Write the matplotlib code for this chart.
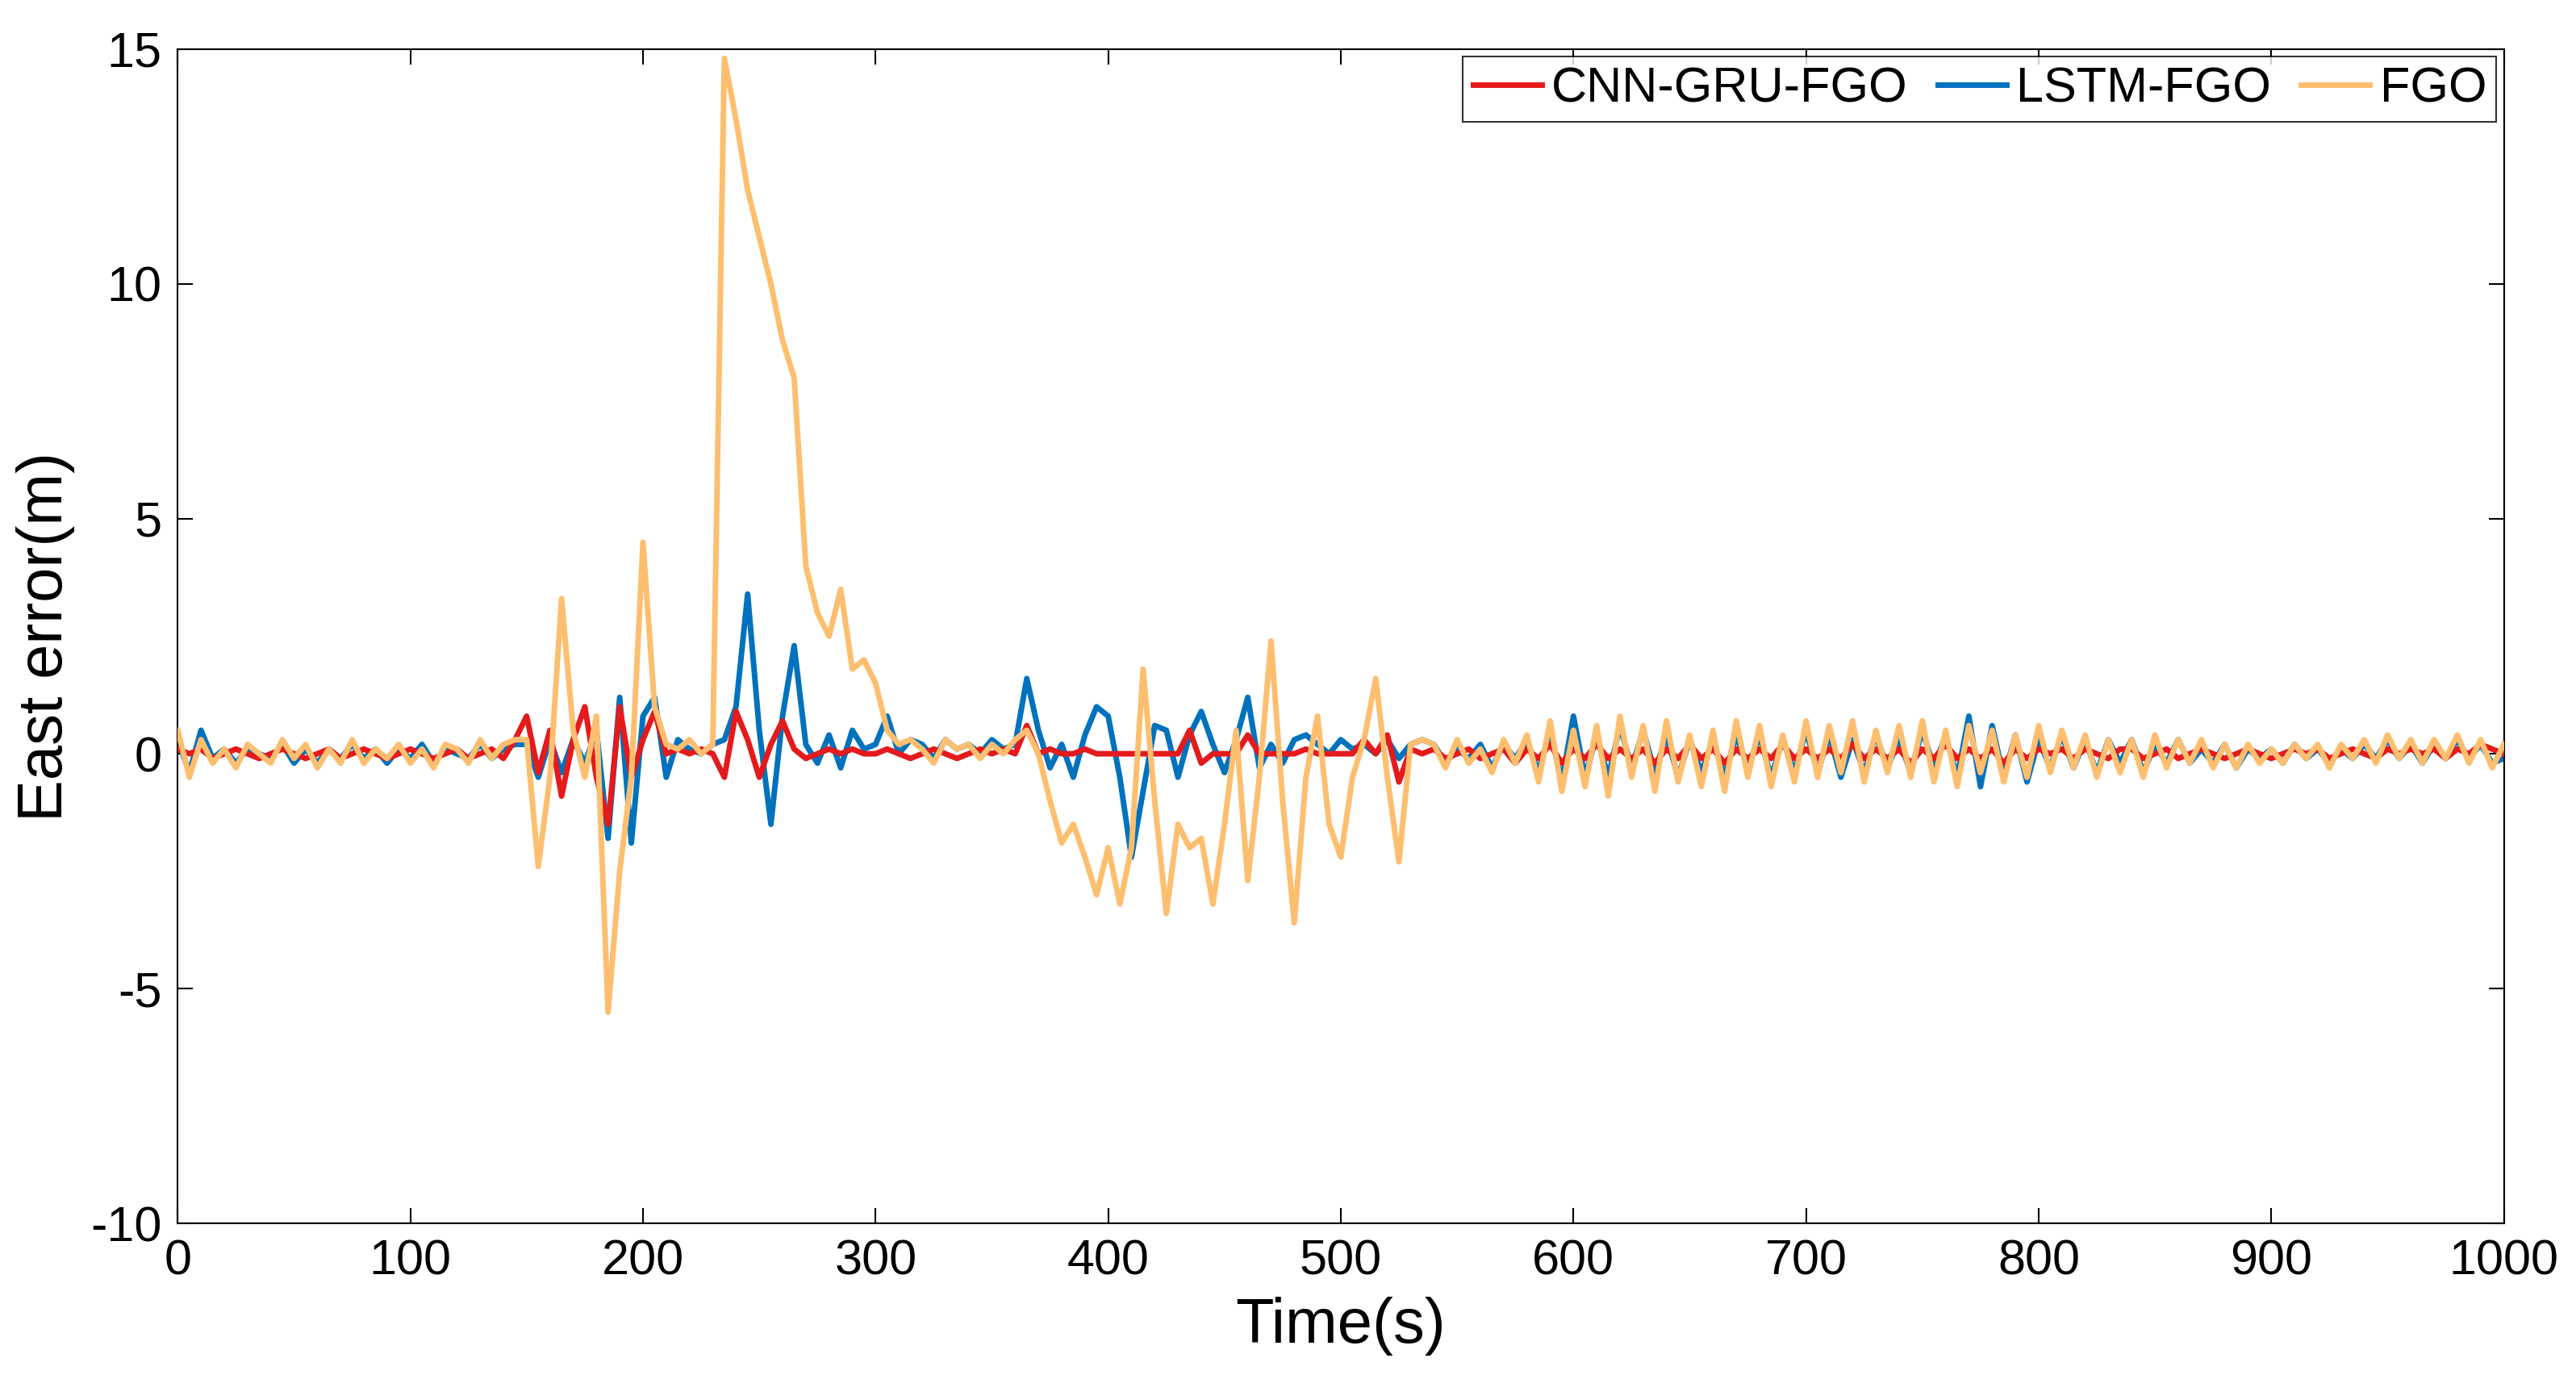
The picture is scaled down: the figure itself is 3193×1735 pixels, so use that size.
import matplotlib
matplotlib.use("Agg")
import matplotlib.pyplot as plt

t = list(range(0, 1001, 5))

fgo = [0.5,-0.5,0.3,-0.2,0.1,-0.3,0.2,0.0,-0.2,0.3,-0.1,0.2,-0.3,0.1,-0.2,0.3,-0.2,0.1,-0.1,0.2,
       -0.2,0.1,-0.3,0.2,0.1,-0.2,0.3,-0.1,0.2,0.3,
       0.3,-2.4,-0.5,3.3,0.5,-0.5,0.8,-5.5,-2.5,-0.5,4.5,1.0,0.2,0.1,0.3,0.0,0.2,14.8,13.5,12.0,
       11.0,10.0,8.8,8.0,4.0,3.0,2.5,3.5,1.8,2.0,1.5,0.5,0.2,0.3,0.1,-0.2,0.3,0.1,0.2,-0.1,
       0.2,0.0,0.3,0.5,0.0,-1.0,-1.9,-1.5,-2.2,-3.0,-2.0,-3.2,-2.0,1.8,-1.0,-3.4,-1.5,-2.0,-1.8,-3.2,
       -1.5,0.5,-2.7,-0.5,2.4,-1.0,-3.6,-0.5,0.8,-1.5,-2.2,-0.5,0.3,1.6,-0.5,-2.3,0.2,0.3,
       0.2,-0.3,0.3,-0.2,0.1,-0.4,0.3,-0.2,0.4,-0.6,0.7,-0.8,0.5,-0.7,0.6,-0.9,0.8,-0.5,0.6,-0.8,
       0.7,-0.6,0.4,-0.7,0.5,-0.8,0.7,-0.5,0.6,-0.7,0.4,-0.6,0.7,-0.5,0.6,-0.4,0.7,-0.6,0.5,-0.4,
       0.6,-0.5,0.7,-0.6,0.5,-0.7,0.6,-0.4,0.5,-0.6,0.4,-0.5,0.6,-0.4,0.5,-0.3,0.4,-0.5,0.3,-0.4,
       0.3,-0.5,0.4,-0.3,0.3,-0.2,0.3,-0.3,0.2,-0.3,0.2,-0.2,0.1,-0.2,0.2,-0.1,0.2,-0.3,0.2,-0.1,
       0.3,-0.2,0.4,-0.1,0.3,-0.2,0.3,-0.1,0.4,-0.2,0.3,-0.3,0.2]

lstm = [0.3,-0.4,0.5,-0.1,0.1,-0.2,0.1,0.0,-0.1,0.2,-0.2,0.1,-0.2,0.1,-0.1,0.2,-0.1,0.1,-0.2,0.1,
        -0.1,0.2,-0.2,0.1,0.0,-0.1,0.2,-0.1,0.1,0.2,
        0.2,-0.5,0.3,-0.4,0.3,-0.2,0.5,-1.8,1.2,-1.9,0.8,1.2,-0.5,0.3,0.1,0.0,0.2,0.3,1.0,3.4,
        0.5,-1.5,0.8,2.3,0.2,-0.2,0.4,-0.3,0.5,0.1,0.2,0.8,0.0,0.3,0.2,-0.1,0.3,0.1,0.2,0.0,
        0.3,0.1,0.2,1.6,0.5,-0.3,0.2,-0.5,0.4,1.0,0.8,-0.5,-2.2,-0.8,0.6,0.5,-0.5,0.4,0.9,0.2,
        -0.4,0.3,1.2,-0.3,0.2,-0.2,0.3,0.4,0.2,0.0,0.3,0.1,0.2,0.0,0.3,-0.1,0.2,0.3,
        0.2,-0.2,0.1,-0.1,0.2,-0.3,0.2,-0.1,0.3,-0.4,0.5,-0.6,0.8,-0.5,0.4,-0.5,0.6,-0.3,0.5,-0.4,
        0.4,-0.5,0.3,-0.4,0.3,-0.5,0.4,-0.3,0.4,-0.5,0.3,-0.4,0.5,-0.4,0.4,-0.5,0.3,-0.4,0.4,-0.3,
        0.3,-0.4,0.5,-0.3,0.4,-0.5,0.8,-0.7,0.6,-0.5,0.4,-0.6,0.3,-0.3,0.4,-0.3,0.3,-0.4,0.3,-0.2,
        0.3,-0.4,0.2,-0.2,0.3,-0.2,0.1,-0.2,0.2,-0.3,0.1,-0.1,0.1,-0.2,0.2,-0.1,0.1,-0.2,0.1,-0.1,
        0.2,-0.1,0.3,-0.1,0.2,-0.2,0.2,-0.1,0.3,-0.1,0.2,-0.2,-0.1]

cnn = [0.1,0.0,0.1,-0.1,0.0,0.1,0.0,-0.1,0.0,0.1,0.0,-0.1,0.0,0.1,-0.1,0.0,0.1,0.0,-0.1,0.0,
       0.1,0.0,-0.1,0.0,0.1,-0.1,0.0,0.1,-0.1,0.3,
       0.8,-0.4,0.5,-0.9,0.3,1.0,-0.5,-1.5,1.0,-0.5,0.3,0.9,0.0,0.1,0.0,0.1,0.0,-0.5,0.9,0.3,
       -0.5,0.2,0.7,0.1,-0.1,0.0,0.1,0.0,0.1,0.0,0.0,0.1,0.0,-0.1,0.0,0.1,0.0,-0.1,0.0,0.1,
       0.0,0.1,0.0,0.6,0.0,0.1,0.0,0.0,0.1,0.0,0.0,0.0,0.0,0.0,0.0,0.0,0.0,0.5,-0.2,0.0,
       0.0,0.0,0.4,0.0,0.0,0.0,0.0,0.1,0.0,0.0,0.0,0.0,0.3,0.0,0.4,-0.6,0.1,0.0,
       0.1,-0.1,0.0,0.1,-0.1,0.0,0.1,-0.2,0.1,-0.1,0.2,-0.2,0.1,-0.1,0.2,-0.1,0.1,-0.1,0.1,-0.2,
       0.1,-0.1,0.2,-0.1,0.1,-0.2,0.1,-0.1,0.1,-0.1,0.2,-0.1,0.1,-0.1,0.1,-0.1,0.2,-0.1,0.1,-0.1,
       0.1,-0.2,0.1,-0.1,0.2,-0.1,0.1,-0.1,0.1,-0.2,0.1,-0.1,0.1,0.0,0.1,-0.1,0.1,0.0,-0.1,0.1,
       0.1,-0.1,0.0,0.1,-0.1,0.0,0.1,0.0,-0.1,0.0,0.1,0.0,-0.1,0.0,0.1,0.0,0.1,-0.1,0.0,0.1,
       0.0,-0.1,0.1,0.0,0.1,0.0,0.1,-0.1,0.1,0.0,0.2,0.1,0.0]

plt.rcParams['font.family'] = ['Arial', 'Liberation Sans', 'DejaVu Sans']
plt.rcParams['axes.unicode_minus'] = False
fig = plt.figure(figsize=(31.93, 17.35), dpi=100)
ax = fig.add_axes([0.069, 0.126, 0.903, 0.839])
ax.plot(t[:len(cnn)], cnn, color='#e41a1c', lw=5, label='CNN-GRU-FGO', zorder=3)
ax.plot(t[:len(lstm)], lstm, color='#0072bd', lw=5, label='LSTM-FGO', zorder=2)
ax.plot(t[:len(fgo)], fgo, color='#fdbf6f', lw=5, label='FGO', zorder=4)
ax.set_xlim(0, 1000)
ax.set_ylim(-10, 15)
ax.set_xticks(range(0, 1001, 100))
ax.set_yticks(range(-10, 16, 5))
ax.tick_params(labelsize=44, direction='in', length=14, width=1.5, top=True, right=True, pad=14)
for s in ax.spines.values():
    s.set_linewidth(1.5)
ax.set_xlabel('Time(s)', fontsize=56, labelpad=10)
ax.set_ylabel('East error(m)', fontsize=56, labelpad=14)
leg = ax.legend(loc='upper right', ncol=3, fontsize=44, frameon=True, fancybox=False,
                edgecolor='black', handlelength=1.4, handletextpad=0.2, columnspacing=0.6,
                borderpad=0.2, borderaxespad=0.15)
leg.get_frame().set_linewidth(1.5)
fig.savefig('out.png', dpi=100, facecolor='white')
